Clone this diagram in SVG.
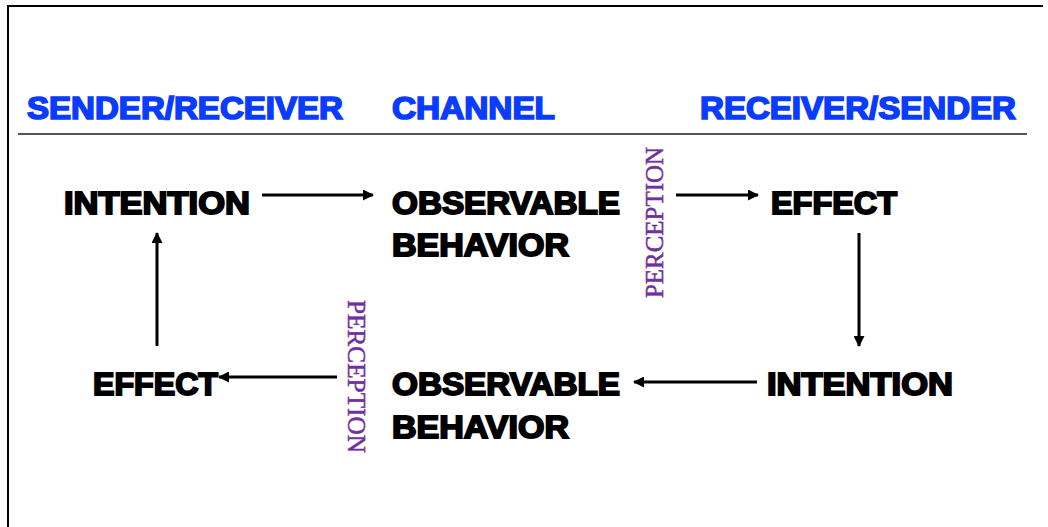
<svg xmlns="http://www.w3.org/2000/svg" width="1048" height="527" viewBox="0 0 1048 527">
<style>
.hdr{font-family:"Liberation Sans",Arial,sans-serif;font-weight:bold;font-size:31px;fill:#0a3cff;stroke:#0a3cff;stroke-width:1.7px}
.lbl{font-family:"Liberation Sans",Arial,sans-serif;font-weight:bold;font-size:31px;fill:#000;stroke:#000;stroke-width:1.9px}
.per{font-family:"Liberation Serif","Times New Roman",serif;font-size:25px;fill:#7030a0;stroke:#7030a0;stroke-width:0.5px}
.conn line{stroke:#000;stroke-width:3;marker-end:url(#ah)}
</style>
<defs>
<marker id="ah" markerWidth="11" markerHeight="11" refX="10" refY="5.5" orient="auto" markerUnits="userSpaceOnUse" viewBox="0 0 11 11">
<path d="M0,0 L11,5.5 L0,11 z" fill="#000"/>
</marker>
</defs>
<rect width="1048" height="527" fill="#fff"/>
<g id="frame">
<line x1="8" y1="6" x2="1043" y2="6" stroke="#000" stroke-width="2"/>
<line x1="8" y1="5" x2="8" y2="527" stroke="#000" stroke-width="2"/>
<line x1="18" y1="134" x2="1027" y2="134" stroke="#555" stroke-width="2"/>
</g>
<g id="headers">
<text class="hdr" x="27" y="119" textLength="316" lengthAdjust="spacingAndGlyphs">SENDER/RECEIVER</text>
<text class="hdr" x="392" y="119" textLength="163" lengthAdjust="spacingAndGlyphs">CHANNEL</text>
<text class="hdr" x="700" y="119" textLength="316" lengthAdjust="spacingAndGlyphs">RECEIVER/SENDER</text>
</g>
<g id="intention1"><text class="lbl" x="64" y="214" textLength="186" lengthAdjust="spacingAndGlyphs">INTENTION</text></g>
<g id="behavior1">
<text class="lbl" x="392" y="214" textLength="228" lengthAdjust="spacingAndGlyphs">OBSERVABLE</text>
<text class="lbl" x="392" y="256" textLength="177" lengthAdjust="spacingAndGlyphs">BEHAVIOR</text>
</g>
<g id="effect1"><text class="lbl" x="771" y="214" textLength="126" lengthAdjust="spacingAndGlyphs">EFFECT</text></g>
<g id="intention2"><text class="lbl" x="767" y="395" textLength="186" lengthAdjust="spacingAndGlyphs">INTENTION</text></g>
<g id="behavior2">
<text class="lbl" x="392" y="395" textLength="228" lengthAdjust="spacingAndGlyphs">OBSERVABLE</text>
<text class="lbl" x="392" y="438" textLength="177" lengthAdjust="spacingAndGlyphs">BEHAVIOR</text>
</g>
<g id="effect2"><text class="lbl" x="93" y="395" textLength="125" lengthAdjust="spacingAndGlyphs">EFFECT</text></g>
<g id="perception1"><text class="per" transform="translate(663,298) rotate(-90)" textLength="151" lengthAdjust="spacingAndGlyphs">PERCEPTION</text></g>
<g id="perception2"><text class="per" transform="translate(348,300) rotate(90)" textLength="153" lengthAdjust="spacingAndGlyphs">PERCEPTION</text></g>
<g id="connectors" class="conn">
<line x1="262" y1="195" x2="373" y2="195"/>
<line x1="676" y1="195" x2="758" y2="195"/>
<line x1="859" y1="233" x2="859" y2="346"/>
<line x1="757" y1="382" x2="634" y2="382"/>
<line x1="337" y1="377" x2="219" y2="377"/>
<line x1="157" y1="346" x2="157" y2="233"/>
</g>
</svg>
